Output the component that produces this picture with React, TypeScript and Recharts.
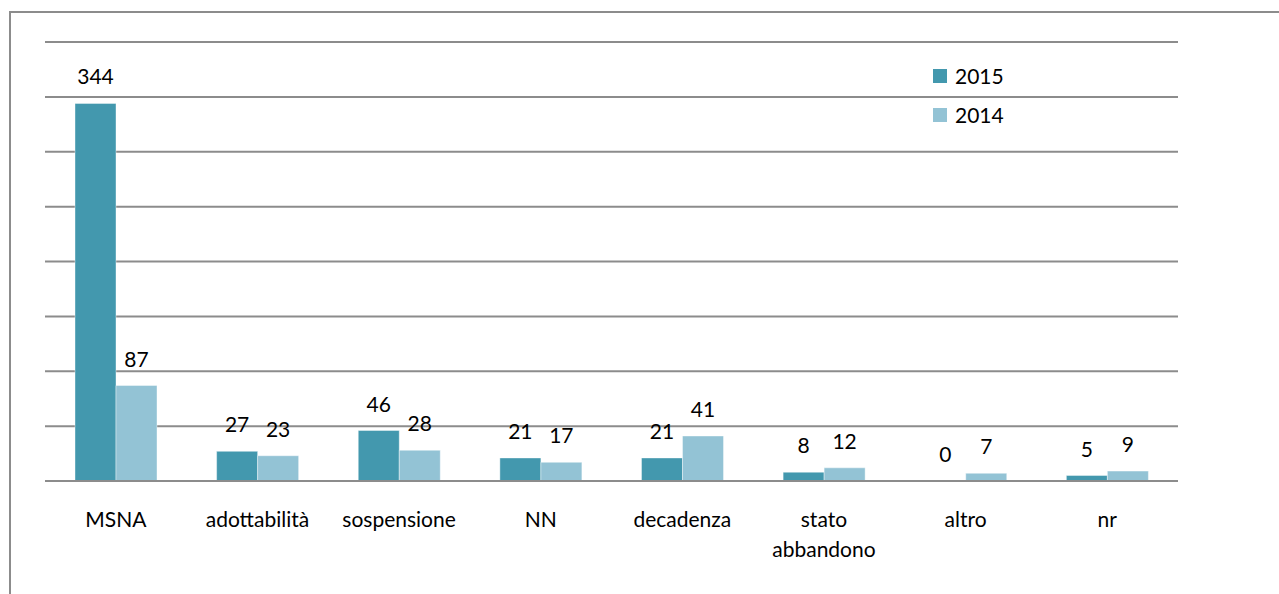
import { BarChart, Bar, XAxis, YAxis, CartesianGrid, LabelList } from "recharts"

const categories = ["MSNA", "adottabilità", "sospensione", "NN", "decadenza", "stato abbandono", "altro", "nr"]
const values2015 = [344, 27, 46, 21, 21, 8, 0, 5]
const values2014 = [87, 23, 28, 17, 41, 12, 7, 9]
const yTicks = [0, 50, 100, 150, 200, 250, 300, 350, 400]

const data = categories.map((name, i) => ({
	name,
	y2015: values2015[i],
	y2014: values2014[i],
}))

const FONT = "Lato, 'Open Sans', sans-serif"
const FS = 21
const C2015 = "#4398ae"
const C2014 = "#93c3d5"
const GRID = "#8c8c8c"

const CategoryTick = ({ x, y, payload }: any) => {
	const lines = String(payload.value).split(" ")
	return (
		<text x={x} y={y + 38} textAnchor="middle" fontSize={FS} fontFamily={FONT} fill="#000">
			{lines.map((l: string, i: number) => (
				<tspan key={i} x={x} dy={i === 0 ? 0 : 30}>
					{l}
				</tspan>
			))}
		</text>
	)
}

const LegendBox = () => (
	<div style={{ position: "absolute", left: 933, top: 56, fontFamily: FONT, fontSize: FS, color: "#000" }}>
		{[
			{ label: "2015", color: C2015 },
			{ label: "2014", color: C2014 },
		].map((it) => (
			<div key={it.label} style={{ display: "flex", alignItems: "center", height: 39 }}>
				<span style={{ width: 14, height: 14, background: it.color, marginRight: 8, display: "inline-block" }} />
				<span>{it.label}</span>
			</div>
		))}
	</div>
)

const App = () => (
	<div style={{ position: "fixed", left: 0, top: 0, width: 1279, height: 594, overflow: "hidden", background: "#fff" }}>
		<div
			style={{
				position: "absolute",
				left: 9,
				top: 11,
				width: 1300,
				height: 620,
				border: `2px solid ${GRID}`,
				boxSizing: "border-box",
			}}
		/>
		<div style={{ position: "absolute", left: 0, top: 0 }}>
			<BarChart
				width={1279}
				height={594}
				data={data}
				margin={{ top: 42, right: 101, left: 45, bottom: 0 }}
				barGap={0}
				barSize={41}
			>
				<CartesianGrid vertical={false} stroke={GRID} strokeWidth={2} />
				<YAxis hide domain={[0, 400]} ticks={yTicks} />
				<XAxis
					dataKey="name"
					height={113}
					axisLine={{ stroke: GRID, strokeWidth: 2 }}
					tickLine={false}
					tick={<CategoryTick />}
					interval={0}
				/>
				<Bar dataKey="y2015" name="2015" fill={C2015} stroke="#ffffff" strokeOpacity={0.4} strokeWidth={1} minPointSize={0.01} isAnimationActive={false}>
					<LabelList dataKey="y2015" position="top" offset={19} fontSize={FS} fontFamily={FONT} fill="#000" />
				</Bar>
				<Bar dataKey="y2014" name="2014" fill={C2014} stroke="#ffffff" strokeOpacity={0.4} strokeWidth={1} isAnimationActive={false}>
					<LabelList dataKey="y2014" position="top" offset={19} fontSize={FS} fontFamily={FONT} fill="#000" />
				</Bar>
			</BarChart>
		</div>
		<LegendBox />
	</div>
)

export default App
